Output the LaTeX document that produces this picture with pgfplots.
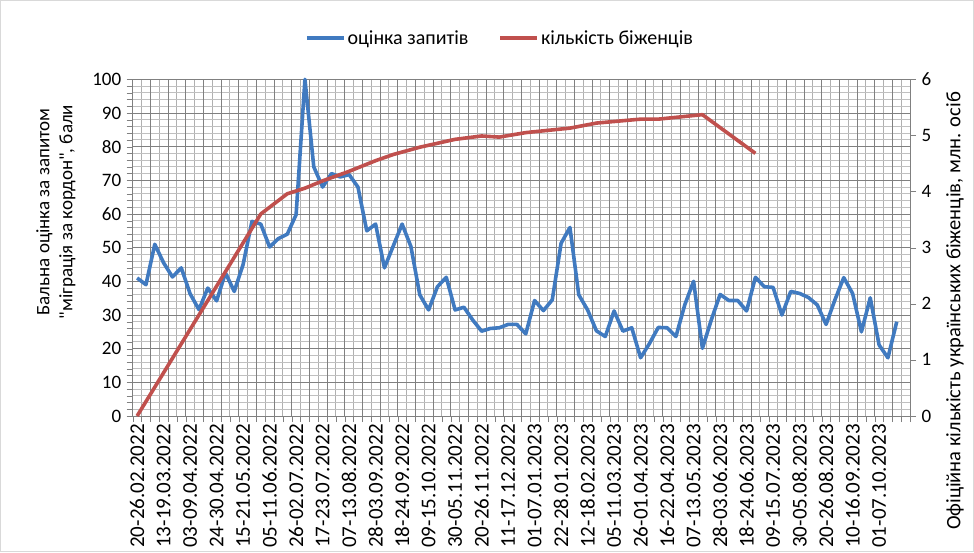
\documentclass[border=0pt]{standalone}
\usepackage{fontspec}
\setmainfont{Carlito}
\usepackage{pgfplots}
\pgfplotsset{compat=1.18}
\definecolor{serblue}{RGB}{64,122,192}
\definecolor{serred}{RGB}{192,80,77}
\definecolor{gridd}{RGB}{128,128,128}
\definecolor{gridl}{RGB}{192,192,192}
\definecolor{gridv}{RGB}{176,176,176}
\begin{document}
\begin{tikzpicture}[x=1pt,y=1pt]
\path[use as bounding box] (0,0) rectangle (974,552);
\draw[gray!30, line width=1pt] (0.5,0.5) rectangle (973.5,551.5);
\begin{axis}[
  at={(132.7pt,136pt)}, anchor=south west, scale only axis,
  width=777.3pt, height=336.7pt,
  xmin=-0.5, xmax=87.5, ymin=0, ymax=100,
  clip=false,
  axis line style={gridd, line width=0.9pt},
  tick align=outside,
  xtick pos=left, ytick pos=left,
  ytick={0,10,...,100}, minor y tick num=4,
  ymajorgrids, yminorgrids,
  major grid style={gridd, line width=0.9pt},
  minor grid style={gridl, line width=0.9pt},
  xtick={0,3,...,84},
  xticklabels={20-26.02.2022,13-19.03.2022,03-09.04.2022,24-30.04.2022,15-21.05.2022,05-11.06.2022,26-02.07.2022,17-23.07.2022,07-13.08.2022,28-03.09.2022,18-24.09.2022,09-15.10.2022,30-05.11.2022,20-26.11.2022,11-17.12.2022,01-07.01.2023,22-28.01.2023,12-18.02.2023,05-11.03.2023,26-01.04.2023,16-22.04.2023,07-13.05.2023,28-03.06.2023,18-24.06.2023,09-15.07.2023,30-05.08.2023,20-26.08.2023,10-16.09.2023,01-07.10.2023},
  major x tick style={draw=none},
  minor xtick={-0.5,0.5,...,87.5},
  xminorgrids=true,
  minor x grid style={gridv, line width=0.9pt},
  minor tick length=6pt, major tick length=6pt,
  extra x ticks={-0.5,1.5,...,87.5},
  extra x tick labels={},
  extra x tick style={grid=major, major x tick style={draw=none}},
  xticklabel style={rotate=90, anchor=east, font=\fontsize{21}{21}\selectfont, inner sep=2pt},
  yticklabel style={font=\fontsize{19}{19}\selectfont, xshift=-2pt},
  /pgf/number format/assume math mode=true,
]
\addplot[serblue, line width=3.6pt, line join=round, mark=none] coordinates {
(0,41) (1,39) (2,51) (3,45.5) (4,41.3) (5,44) (6,36.3) (7,31.6) (8,38) (9,34.2)
(10,42.5) (11,37) (12,45) (13,57.8) (14,57) (15,50.2) (16,52.7) (17,54) (18,59.8) (19,100)
(20,74) (21,68) (22,72) (23,71) (24,71.7) (25,68) (26,55) (27,57) (28,44) (29,50.5)
(30,57) (31,50.3) (32,36) (33,31.5) (34,38.4) (35,41.2) (36,31.5) (37,32.3) (38,28.5) (39,25.2)
(40,26) (41,26.2) (42,27.2) (43,27.2) (44,24.4) (45,34.3) (46,31.3) (47,34.5) (48,51.3) (49,56)
(50,36) (51,31.5) (52,25.3) (53,23.6) (54,31.2) (55,25.2) (56,26.2) (57,17.3) (58,21.5) (59,26.3)
(60,26.2) (61,23.6) (62,33) (63,40) (64,20.1) (65,28.5) (66,36.1) (67,34.3) (68,34.3) (69,31.2)
(70,41.2) (71,38.4) (72,38.2) (73,30) (74,37) (75,36.4) (76,35.2) (77,33) (78,27.2) (79,34.5)
(80,41.1) (81,36.4) (82,25) (83,35.1) (84,21.1) (85,17.3) (86,28)
};
\end{axis}
\begin{axis}[
  at={(132.7pt,136pt)}, anchor=south west, scale only axis,
  width=777.3pt, height=336.7pt,
  xmin=-0.5, xmax=87.5, ymin=0, ymax=6,
  axis x line=none, axis y line*=right,
  axis line style={gridd, line width=0.9pt},
  tick align=outside, major tick length=6pt,
  ytick={0,1,...,6},
  yticklabel style={font=\fontsize{19}{19}\selectfont, xshift=2pt},
  /pgf/number format/assume math mode=true,
  legend columns=2,
  legend style={draw=none, fill=none, at={(axis description cs:0.4725,1.1227)}, anchor=center,
    font=\fontsize{20}{20}\selectfont,
    /tikz/every even column/.append style={column sep=28pt}},
  legend image code/.code={\draw[#1] (0pt,0pt) -- (37pt,0pt);},
]
\addlegendimage{serblue, line width=3.6pt}
\addlegendentry{оцінка запитів}
\addplot[serred, line width=3.6pt, line join=round, mark=none] coordinates {
(0,0) (14,3.6) (17,3.96) (19,4.06) (21,4.19) (24,4.36) (27,4.55) (29,4.66) (32,4.79)
(36,4.93) (39,4.99) (41,4.97) (44,5.05) (49,5.13) (52,5.22) (57,5.29) (59,5.29) (64,5.37) (70,4.68)
};
\addlegendentry{кількість біженців}
\end{axis}
\node[rotate=90, align=center, font=\fontsize{19}{23}\selectfont] at (56,340) {Бальна оцінка за запитом\\\textquotedbl міграція за кордон\textquotedbl, бали};
\node[rotate=90, font=\fontsize{20.5}{23}\selectfont] at (955,241) {Офіційна кількість українських біженців, млн. осіб};
\end{tikzpicture}
\end{document}
